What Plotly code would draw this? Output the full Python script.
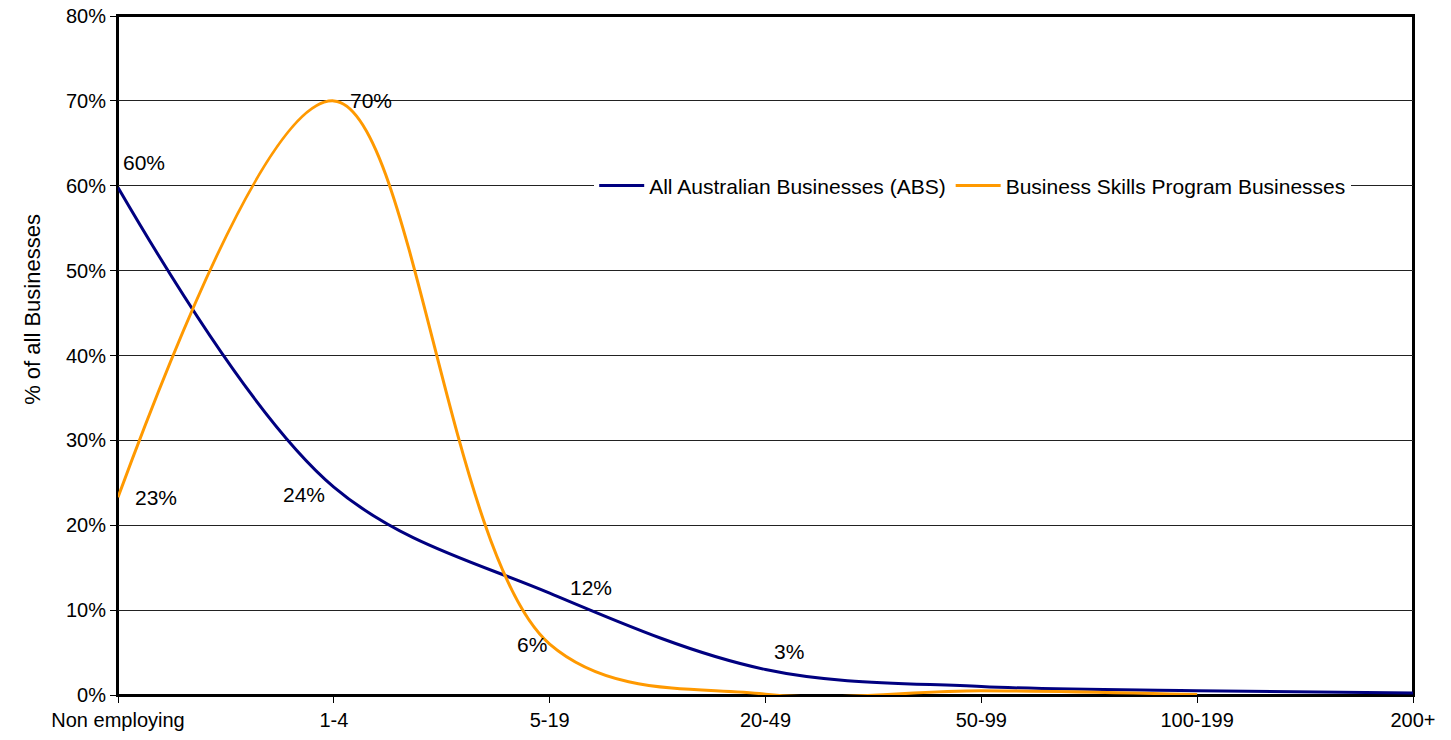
import plotly.graph_objects as go

categories = ["Non employing", "1-4", "5-19", "20-49", "50-99", "100-199", "200+"]
abs_values = [59.8, 24.5, 12.0, 3.0, 1.0, 0.5, 0.25]
bsp_categories = ["Non employing", "1-4", "5-19", "20-49", "50-99", "100-199"]
bsp_values = [23.3, 70.0, 6.0, 0.1, 0.5, 0.05]
y_ticks = [0, 10, 20, 30, 40, 50, 60, 70, 80]
y_tick_labels = [f"{v}%" for v in y_ticks]

# label specs: (series, index, text, xshift, yshift)
labels = [
    ("abs", 0, "60%", 26, 25),
    ("abs", 1, "24%", -30, -7),
    ("abs", 2, "12%", 41, 6),
    ("abs", 3, "3%", 23, 18),
    ("bsp", 0, "23%", 38, 0),
    ("bsp", 1, "70%", 37, 0),
    ("bsp", 2, "6%", -18, 0),
]

FONT = "Liberation Sans, Arial, sans-serif"

fig = go.Figure()
fig.add_trace(go.Scatter(
    x=categories, y=abs_values, mode="lines",
    name="All Australian Businesses (ABS)",
    line=dict(color="#000080", width=3, shape="spline", smoothing=1),
))
fig.add_trace(go.Scatter(
    x=bsp_categories, y=bsp_values, mode="lines",
    name="Business Skills Program Businesses",
    line=dict(color="#FF9900", width=3, shape="spline", smoothing=1),
))

series = {"abs": (categories, abs_values), "bsp": (bsp_categories, bsp_values)}
for s, i, t, dx, dy in labels:
    xs, ys = series[s]
    fig.add_annotation(x=xs[i], y=ys[i], text=t, showarrow=False,
                       xshift=dx, yshift=dy, font=dict(size=21, color="black", family=FONT))

fig.add_annotation(xref="paper", yref="paper", x=-0.0772, y=0.568,
                   text="% of all Businesses", textangle=-90, showarrow=False,
                   font=dict(size=22, color="black", family=FONT))

# plot-area frame
fig.add_shape(type="rect", xref="paper", yref="paper", x0=0, y0=0, x1=1, y1=1,
              line=dict(color="black", width=2), layer="below")

fig.update_layout(
    width=1451, height=740,
    margin=dict(l=118, r=38, t=16, b=45, autoexpand=False),
    paper_bgcolor="white", plot_bgcolor="white",
    font=dict(family=FONT, size=20, color="black"),
    showlegend=True,
    legend=dict(orientation="h", x=0.66, xanchor="center", y=0.75, yanchor="middle",
                bgcolor="white", font=dict(size=21, family=FONT), itemwidth=45,
                tracegroupgap=0),
    xaxis=dict(type="category", categoryorder="array", categoryarray=categories,
               range=[0, 6], showgrid=False, showline=True, linecolor="black",
               linewidth=2, mirror=True, ticks="outside", ticklen=6,
               tickcolor="black", tickfont=dict(size=20), zeroline=False,
               fixedrange=True, automargin=False, ticklabeloverflow="allow"),
    yaxis=dict(range=[0, 80], tickvals=y_ticks, ticktext=y_tick_labels,
               showgrid=True, gridcolor="#222222", gridwidth=1,
               showline=True, linecolor="black", linewidth=2, mirror=True,
               ticks="outside", ticklen=6, tickcolor="black",
               tickfont=dict(size=20), zeroline=False, fixedrange=True,
               automargin=False, ticklabeloverflow="allow"),
)

# remove the default 8px page margin so the figure sits at the window's origin
fig.write_html("out.html", config={"displayModeBar": False},
               post_script="document.body.style.margin='0';")
